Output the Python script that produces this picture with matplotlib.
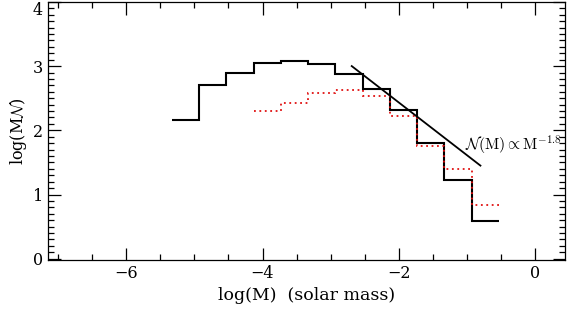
import matplotlib
matplotlib.use("Agg")
import matplotlib.pyplot as plt
from matplotlib.ticker import MultipleLocator

# Bin edges in log(M)
bin_edges = [-5.33, -4.93, -4.53, -4.13, -3.73, -3.33, -2.93, -2.53,
             -2.13, -1.73, -1.33, -0.93, -0.53]
# Black solid histogram log(M N)
black_vals = [2.16, 2.71, 2.90, 3.05, 3.08, 3.03, 2.87, 2.65,
              2.31, 1.80, 1.22, 0.59]
# Red dotted histogram (starts at 4th bin)
red_edges = [-4.13, -3.73, -3.33, -2.93, -2.53, -2.13, -1.73, -1.33, -0.93, -0.53]
red_vals = [2.30, 2.43, 2.58, 2.62, 2.54, 2.23, 1.76, 1.39, 0.83]
# Power-law line endpoints
pl_x = [-2.69, -0.80]
pl_y = [3.00, 1.45]
y_ticks = [0, 1, 2, 3, 4]
x_ticks = [-6, -4, -2, 0]

plt.rcParams['font.family'] = ['DejaVu Serif']
plt.rcParams['mathtext.fontset'] = 'cm'

fig = plt.figure(figsize=(5.68, 3.14), dpi=100)
ax = fig.add_axes([0.0845, 0.172, 0.91, 0.822])

ax.stairs(black_vals, bin_edges, baseline=None, color='black', lw=1.5)
ax.stairs(red_vals, red_edges, baseline=None, color='#e01010', lw=1.3,
          linestyle=(0, (1, 2)))
ax.plot(pl_x, pl_y, color='black', lw=1.3)

ax.text(-1.03, 1.77, r'$\mathcal{N}\mathrm{(M)} \propto \mathrm{M}^{-1.8}$',
        fontsize=11.3, ha='left', va='center')

ax.set_xlim(-7.15, 0.44)
ax.set_ylim(-0.02, 4.0)
ax.set_xticks(x_ticks)
ax.set_yticks(y_ticks)
ax.xaxis.set_minor_locator(MultipleLocator(0.5))
ax.yaxis.set_minor_locator(MultipleLocator(0.1))
ax.tick_params(which='both', direction='in', top=True, right=True,
               labelsize=11.5, width=0.9)
ax.tick_params(which='major', length=9)
ax.tick_params(which='minor', length=4.5)
for s in ax.spines.values():
    s.set_linewidth(0.9)

ax.set_xlabel('log(M)  (solar mass)', fontsize=12.5, labelpad=4)
ax.set_ylabel(r'log(M$\mathcal{N}$)', fontsize=11.5, labelpad=3)

labels = ax.get_yticklabels()
labels[-1].set_verticalalignment('top')

fig.savefig('out.png', dpi=100)
